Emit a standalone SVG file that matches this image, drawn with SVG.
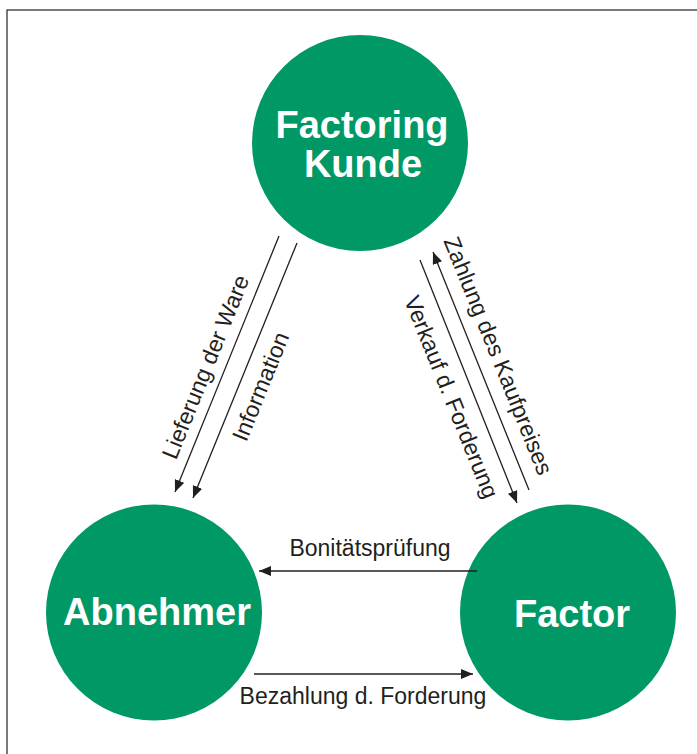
<svg xmlns="http://www.w3.org/2000/svg" width="697" height="754" viewBox="0 0 697 754">
<style>
.node{fill:#009966}
.ntxt{font-family:"Liberation Sans",Arial,sans-serif;font-weight:bold;font-size:38px;fill:#ffffff;text-anchor:middle}
.lbl{font-family:"Liberation Sans",Arial,sans-serif;font-size:23px;fill:#231f20;text-anchor:middle}
.conn{stroke:#231f20;stroke-width:1.3;fill:none;marker-end:url(#ah)}
</style>
<defs>
<marker id="ah" markerUnits="userSpaceOnUse" markerWidth="12" markerHeight="10" refX="12" refY="5" orient="auto">
<path d="M0,0 L12,5 L0,10 z" fill="#231f20"/>
</marker>
</defs>
<rect x="0" y="0" width="697" height="754" fill="#ffffff"/>
<rect x="7" y="10" width="720" height="780" fill="none" stroke="#333333" stroke-width="1.3"/>
<g id="kunde">
<circle class="node" cx="360" cy="143" r="108"/>
<text class="ntxt" x="362" y="138">Factoring</text>
<text class="ntxt" x="363" y="177">Kunde</text>
</g>
<g id="abnehmer">
<circle class="node" cx="154" cy="612.5" r="108"/>
<text class="ntxt" x="157" y="625">Abnehmer</text>
</g>
<g id="factor">
<circle class="node" cx="568" cy="612.5" r="108"/>
<text class="ntxt" x="572" y="627">Factor</text>
</g>
<g id="connectors">
<line class="conn" x1="279" y1="236" x2="175" y2="492"/>
<line class="conn" x1="297" y1="243" x2="193" y2="498"/>
<line class="conn" x1="529" y1="490" x2="433" y2="252"/>
<line class="conn" x1="420" y1="260" x2="517" y2="503"/>
<line class="conn" x1="477" y1="571" x2="259" y2="571"/>
<line class="conn" x1="254" y1="674" x2="473" y2="674"/>
<text class="lbl" transform="translate(223,374) rotate(-67.9)" x="0" y="-11">Lieferung der Ware</text>
<text class="lbl" transform="translate(242,379) rotate(-67.9)" x="0" y="28">Information</text>
<text class="lbl" transform="translate(478,364) rotate(68)" x="0" y="-14">Zahlung des Kaufpreises</text>
<text class="lbl" transform="translate(471,389) rotate(68)" x="0" y="29">Verkauf d. Forderung</text>
<text class="lbl" x="370" y="556">Bonitätsprüfung</text>
<text class="lbl" x="363" y="704">Bezahlung d. Forderung</text>
</g>
</svg>
